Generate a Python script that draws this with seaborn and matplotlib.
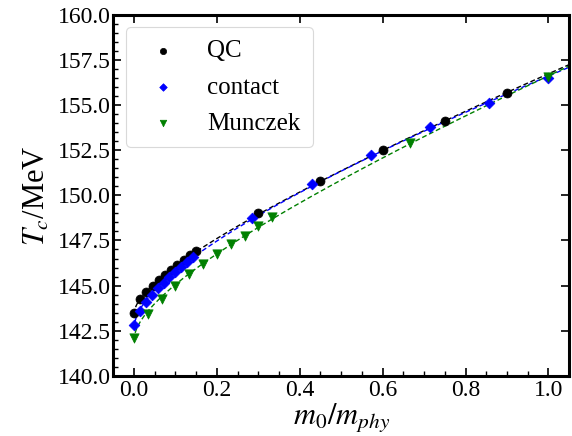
import numpy as np
import pandas as pd
import matplotlib
matplotlib.use("Agg")
import matplotlib.pyplot as plt
import seaborn as sns
from matplotlib.ticker import MultipleLocator

# ---- data ----
qc_x = [0.0, 0.015, 0.03, 0.045, 0.06, 0.075, 0.09, 0.105, 0.12, 0.135, 0.15,
        0.30, 0.45, 0.60, 0.75, 0.90]
qc_y = [143.5, 144.25, 144.65, 144.95, 145.3, 145.6, 145.87, 146.15, 146.42, 146.67, 146.93,
        149.02, 150.82, 152.52, 154.1, 155.66]

contact_x = [0.0, 0.0143, 0.0286, 0.0429, 0.0571, 0.0714, 0.0857, 0.1, 0.1143, 0.1286, 0.1429,
             0.2857, 0.4286, 0.5714, 0.7143, 0.8571, 1.0]
contact_y = [142.8, 143.6, 144.08, 144.49, 144.86, 145.17, 145.5, 145.78, 146.05, 146.33, 146.57,
             148.77, 150.62, 152.24, 153.76, 155.14, 156.5]

munczek_x = [0.0, 0.0333, 0.0667, 0.1, 0.1333, 0.1667, 0.2, 0.2333, 0.2667, 0.3, 0.3333,
             0.6667, 1.0]
munczek_y = [142.1, 143.45, 144.28, 145.0, 145.63, 146.2, 146.76, 147.3, 147.77, 148.31, 148.78,
             152.9, 156.55]

labels = ["QC", "contact", "Munczek"]
colors = ["black", "blue", "green"]
markers = ["o", "D", "v"]

sns.set_style("ticks")
plt.rcParams["font.family"] = ["Liberation Serif", "DejaVu Serif"]
plt.rcParams["mathtext.fontset"] = "stix"
for k in ["text.color", "axes.labelcolor", "xtick.color", "ytick.color", "axes.edgecolor"]:
    plt.rcParams[k] = "black"

fig = plt.figure(figsize=(5.72, 4.36), dpi=100)
ax = fig.add_axes([0.198, 0.138, 0.797, 0.828])

series = [(qc_x, qc_y), (contact_x, contact_y), (munczek_x, munczek_y)]
xs_fit = np.linspace(0.0, 1.05, 400)
for (x, y), lab, col, mk in zip(series, labels, colors, markers):
    x = np.asarray(x); y = np.asarray(y)
    A = np.column_stack([np.ones_like(x), np.sqrt(x), x])
    coef, *_ = np.linalg.lstsq(A, y, rcond=None)
    yf = coef[0] + coef[1] * np.sqrt(xs_fit) + coef[2] * xs_fit
    sns.lineplot(x=xs_fit, y=yf, ax=ax, color=col, linestyle=(0, (3.5, 2)), linewidth=1.0,
                 legend=False, zorder=2)
    ms = 42 if mk == "o" else (30 if mk == "D" else 45)
    sns.scatterplot(x=x, y=y, ax=ax, color=col, marker=mk, s=ms, edgecolor=col,
                    linewidth=0.5, label=lab, zorder=3)

ax.set_xlim(-0.05, 1.05)
ax.set_ylim(140, 160)
ax.xaxis.set_minor_locator(MultipleLocator(0.05))
ax.yaxis.set_minor_locator(MultipleLocator(0.5))
ax.set_yticks(np.arange(140, 160.1, 2.5))
ax.set_yticklabels([f"{v:.1f}" for v in np.arange(140, 160.1, 2.5)])
ax.set_xticks(np.arange(0, 1.01, 0.2))
ax.set_xticklabels([f"{v:.1f}" for v in np.arange(0, 1.01, 0.2)])

for s in ax.spines.values():
    s.set_linewidth(2.2)
    s.set_visible(True)
    s.set_color("black")
ax.tick_params(which="major", direction="in", length=6, width=1.2, labelsize=17,
               top=True, right=True, pad=3, colors="black")
ax.tick_params(which="minor", direction="in", length=3.5, width=1.0, top=False, right=False,
               colors="black")
ax.tick_params(axis="y", pad=2)

ax.set_xlabel(r"$m_0/m_{phy}$", fontsize=22, labelpad=0)
ax.set_ylabel(r"$T_c$/MeV", fontsize=22, labelpad=4)

leg = ax.legend(loc="upper left", fontsize=18, markerscale=0.7, handlelength=2.0,
                handletextpad=0.75, labelspacing=0.55, borderpad=0.5, frameon=True,
                fancybox=True)
leg.get_frame().set_edgecolor("#d0d0d0")
leg.get_frame().set_linewidth(0.8)

fig.savefig("out.png", dpi=100)
